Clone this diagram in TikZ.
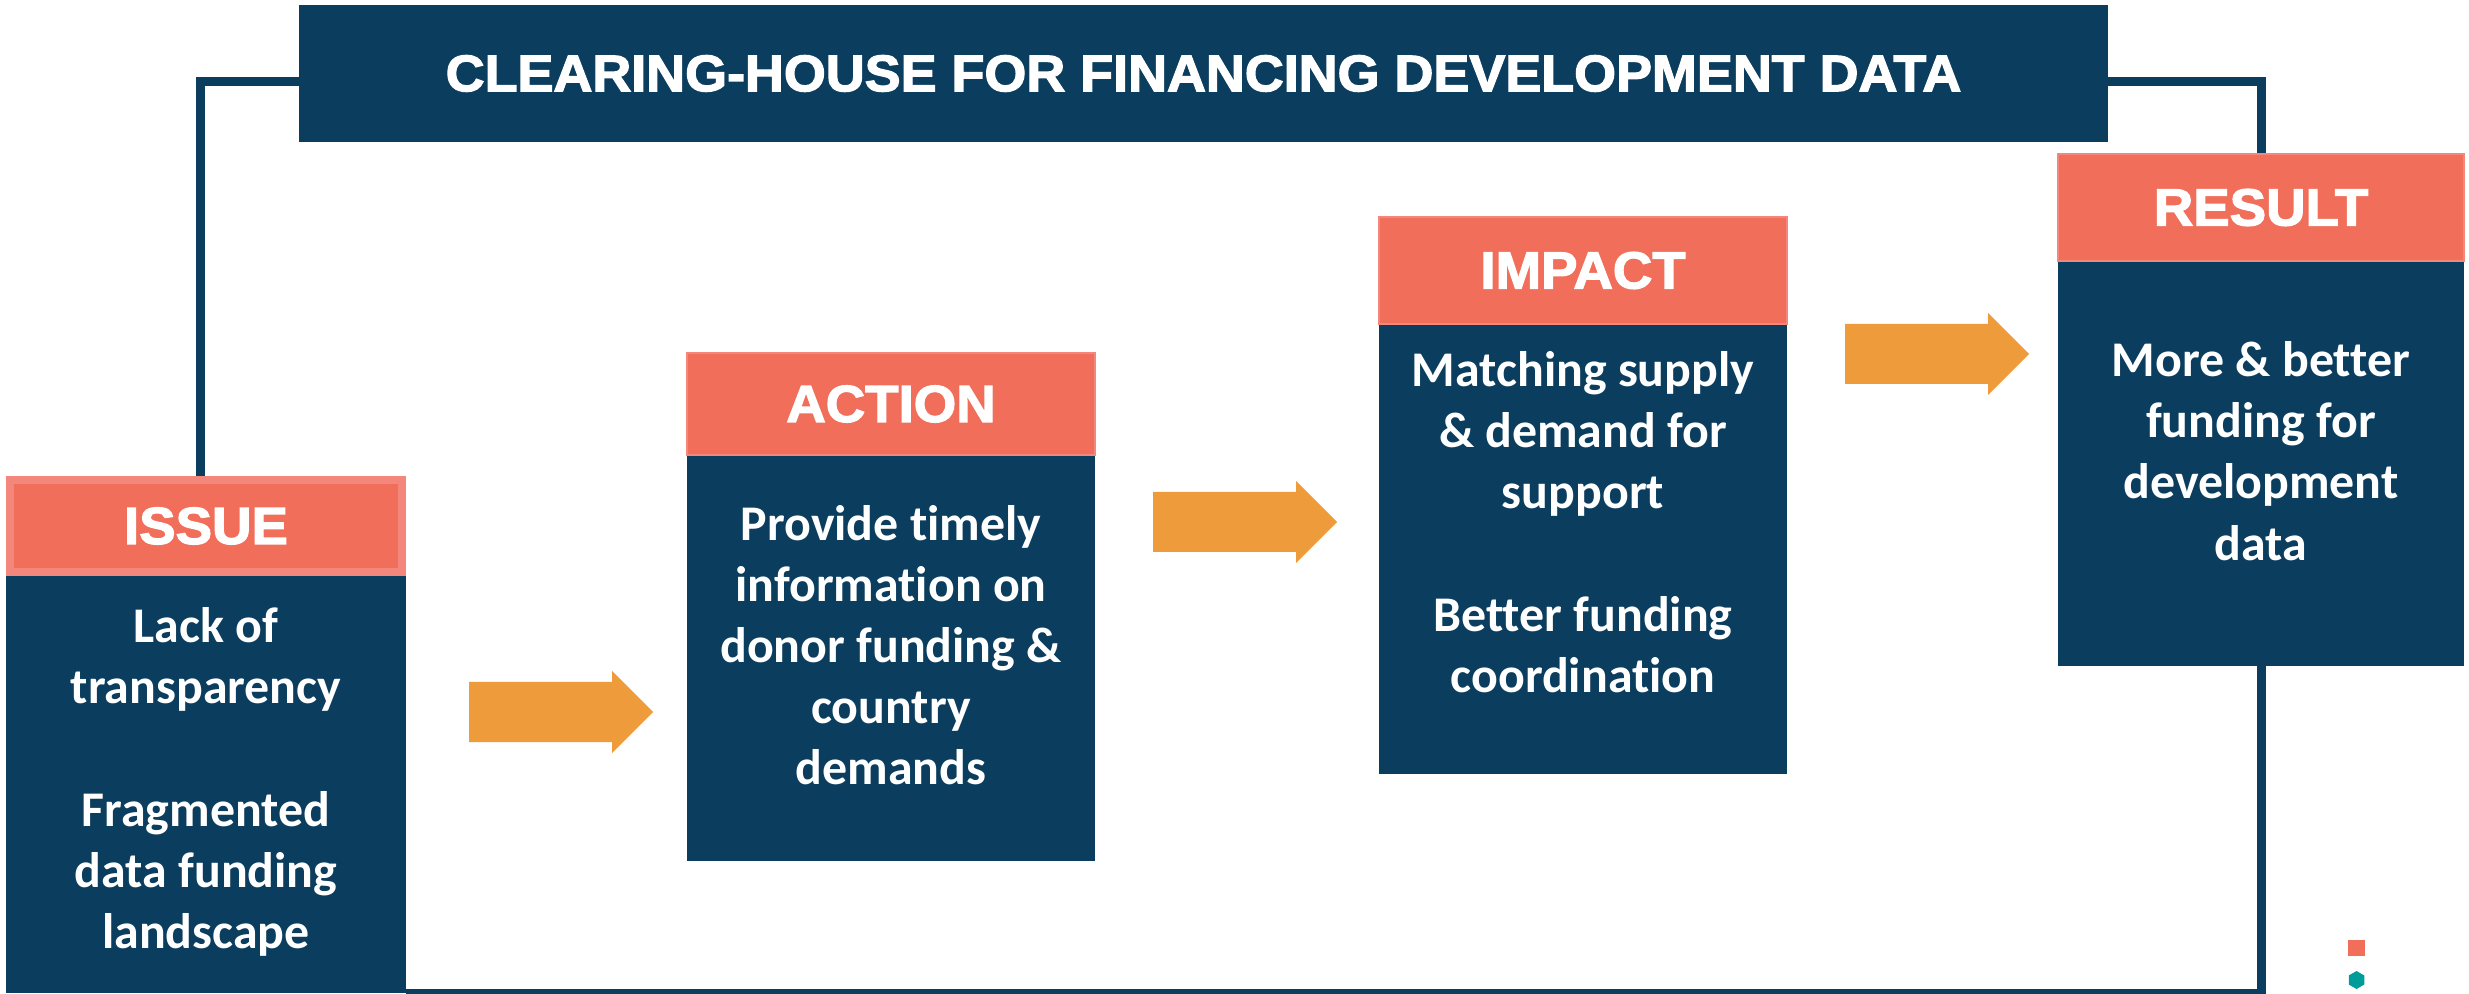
\documentclass[tikz,border=0pt]{standalone}
\usepackage{fontspec}
\setmainfont{Carlito}[Ligatures={NoCommon}]
\newfontfamily\headfont{Liberation Sans}[BoldFeatures={FakeBold=2.5,FakeStretch=1.05}]
\usetikzlibrary{positioning}

\definecolor{navy}{HTML}{0B3D5E}
\definecolor{salmon}{HTML}{F06E5A}
\definecolor{salmonedge}{HTML}{F4877B}
\definecolor{arroworange}{HTML}{ED9B3B}
\definecolor{tealdot}{HTML}{009C9A}

\tikzset{
    titlebox/.style={fill=navy, text=white, outer sep=0pt, minimum width=18.09cm, minimum height=1.37cm,
        font=\headfont\bfseries\fontsize{14.6pt}{17pt}\selectfont},
    headbox/.style={fill=salmon, draw=salmonedge, line width=0.6pt, text=white,
        font=\headfont\bfseries\fontsize{14.8pt}{17pt}\selectfont},
    bodybox/.style={fill=navy, outer sep=0pt, inner sep=0pt},
    bodytext/.style={text=white, align=center, inner sep=0pt, font=\bfseries\fontsize{14.2pt}{17.4pt}\selectfont},
    framelines/.style={navy, line width=0.09cm},
}

\begin{document}
\begin{tikzpicture}
        \useasboundingbox (0,0) rectangle (24.69,9.93);

        \node[titlebox] (TitleBox) at (12.035,9.195) {CLEARING-HOUSE FOR FINANCING DEVELOPMENT DATA};

        \node[headbox, line width=0.08cm, minimum width=3.92cm, minimum height=0.92cm] (IssueHead) at (2.06,4.67) {ISSUE};
        \node[bodybox, minimum width=4cm, minimum height=4.17cm, below=0pt of IssueHead] (IssueBody) {};
        \node[bodytext] (IssueText) at (2.06,2.11) {Lack of\\transparency\\[17.4pt]Fragmented\\data funding\\landscape};

        \node[headbox, minimum width=4.08cm, minimum height=1.02cm] (ActionHead) at (8.91,5.89) {ACTION};
        \node[bodybox, minimum width=4.08cm, minimum height=4.05cm, below=0pt of ActionHead] (ActionBody) {};
        \node[bodytext] (ActionText) at (8.91,3.48) {Provide timely\\information on\\donor funding \&\\country\\demands};

        \node[headbox, minimum width=4.08cm, minimum height=1.07cm] (ImpactHead) at (15.83,7.225) {IMPACT};
        \node[bodybox, minimum width=4.08cm, minimum height=4.49cm, below=0pt of ImpactHead] (ImpactBody) {};
        \node[bodytext] (ImpactText) at (15.83,4.71) {Matching supply\\\& demand for\\support\\[17.4pt]Better funding\\coordination};

        \node[headbox, minimum width=4.06cm, minimum height=1.07cm] (ResultHead) at (22.61,7.855) {RESULT};
        \node[bodybox, minimum width=4.06cm, minimum height=4.04cm, below=0pt of ResultHead] (ResultBody) {};
        \node[bodytext] (ResultText) at (22.61,5.42) {More \& better\\funding for\\development\\data};

        \draw[framelines] ([xshift=-0.06cm]IssueHead.north) |- ([yshift=-0.085cm]TitleBox.west);
        \draw[framelines] ([yshift=-0.085cm]TitleBox.east) -| (ResultHead.north);
        \draw[framelines] (ResultBody.south) |- (IssueBody.south east);

        \foreach \x/\y in {4.69/2.81, 11.53/4.71, 18.45/6.39}
            \fill[arroworange] (\x,\y-0.30) -- ++(1.43,0) -- ++(0,-0.11) -- ++(0.41,0.41) -- ++(-0.41,0.41) -- ++(0,-0.11) -- ++(-1.43,0) -- cycle;

        \fill[salmon] (23.48,0.37) rectangle (23.65,0.53);
        \fill[tealdot] (23.565,0.13) +(90:0.09) -- +(150:0.09) -- +(210:0.09) -- +(270:0.09) -- +(330:0.09) -- +(30:0.09) -- cycle;
\end{tikzpicture}
\end{document}
